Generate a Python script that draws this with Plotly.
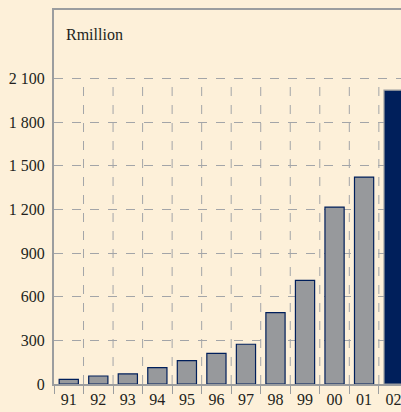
import plotly.graph_objects as go

years = ["91", "92", "93", "94", "95", "96", "97", "98", "99", "00", "01", "02"]
values = [32, 55, 69, 112, 160, 211, 273, 490, 712, 1216, 1422, 2019]
y_ticks = [0, 300, 600, 900, 1200, 1500, 1800, 2100]
y_labels = ["0", "300", "600", "900", "1 200", "1 500", "1 800", "2 100"]

BG = "#fdf0d9"
GRAY = "#9b9d9f"
NAVY = "#001f5b"
BAR_GRAY = "#97999c"
TXT = "#231f20"

xs = list(range(len(years)))
fill = [BAR_GRAY] * (len(years) - 1) + [NAVY]
line_c = [NAVY] * (len(years) - 1) + [GRAY]

fig = go.Figure()
fig.add_trace(go.Bar(
    x=xs, y=values, width=0.65,
    marker=dict(color=fill, line=dict(color=line_c, width=1.2)),
    hoverinfo="skip",
))

shapes = []
for k in range(1, len(years)):
    shapes.append(dict(type="line", xref="x", yref="y", x0=k - 0.5, x1=k - 0.5,
                       y0=0, y1=y_ticks[-1], layer="below",
                       line=dict(color="#a3a5a8", width=1, dash="dash")))

fig.update_layout(
    width=401, height=412,
    paper_bgcolor=BG, plot_bgcolor=BG,
    margin=dict(l=54, r=0, t=10, b=28),
    showlegend=False,
    bargap=0.3,
    shapes=shapes,
    font=dict(family="Liberation Serif", size=16, color=TXT),
    xaxis=dict(
        range=[-0.5, 11.25],
        tickvals=xs, ticktext=years,
        ticks="", showgrid=False, zeroline=False,
        showline=True, linecolor=GRAY, linewidth=2, mirror=True,
        tickfont=dict(size=16, color=TXT),
        ticklabelstandoff=0,
        ticklabeloverflow="allow",
        minor=dict(tick0=0.5, dtick=1, ticks="outside", ticklen=8,
                   tickcolor=GRAY, tickwidth=1, showgrid=False),
    ),
    yaxis=dict(
        range=[0, 2570],
        tickvals=y_ticks, ticktext=y_labels,
        ticks="", showgrid=True, gridcolor="#a3a5a8", griddash="dash", gridwidth=1,
        zeroline=False,
        showline=True, linecolor=GRAY, linewidth=2,
        tickfont=dict(size=16, color=TXT),
        ticklabelstandoff=4,
    ),
    annotations=[dict(text="Rmillion", xref="paper", yref="paper", x=0.028, y=0.935,
                      xanchor="left", yanchor="middle", showarrow=False,
                      font=dict(size=16, family="Liberation Serif", color=TXT))],
)

fig.write_html("out.html")
